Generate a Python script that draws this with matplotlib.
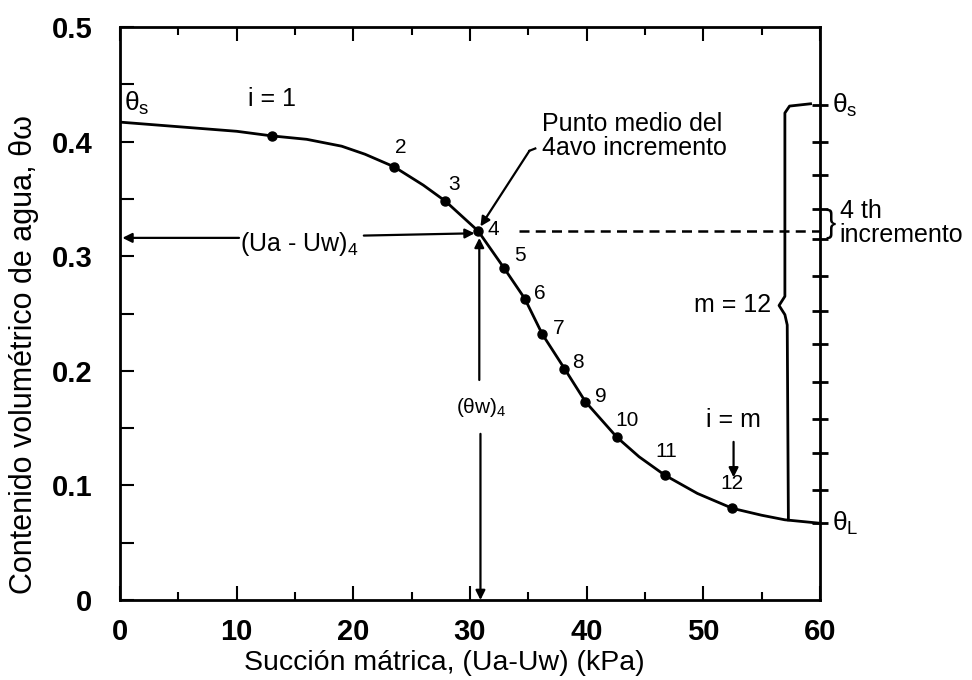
import numpy as np
import matplotlib
matplotlib.use('Agg')
import matplotlib.pyplot as plt
from matplotlib.ticker import MultipleLocator

plt.rcParams['font.family'] = ['Liberation Sans', 'DejaVu Sans']
plt.rcParams['mathtext.fontset'] = 'custom'
plt.rcParams['mathtext.rm'] = 'Liberation Sans'
plt.rcParams['mathtext.it'] = 'Liberation Sans:italic'

curve_x = [0, 5, 10, 13.0, 16, 19, 21, 23.5, 26, 27.9, 30.7, 32.9, 34.7, 36.2,
           38.1, 39.9, 42.6, 44.5, 46.7, 49.5, 52.5, 55, 57, 60]
curve_y = [0.417, 0.413, 0.409, 0.405, 0.402, 0.396, 0.389, 0.378, 0.362, 0.348,
           0.322, 0.290, 0.263, 0.232, 0.202, 0.173, 0.142, 0.125, 0.109, 0.093,
           0.080, 0.074, 0.070, 0.067]

# increment mid points i = 1..12
pt_x = [13.0, 23.5, 27.9, 30.7, 32.9, 34.7, 36.2, 38.1, 39.9, 42.6, 46.7, 52.5]
pt_y = [0.405, 0.378, 0.348, 0.322, 0.290, 0.263, 0.232, 0.202, 0.173, 0.142, 0.109, 0.080]
pt_labels = ['', '2', '3', '4', '5', '6', '7', '8', '9', '10', '11', '12']

# increments marked on the right axis (theta_s down to theta_L)
incr_y = [0.432, 0.400, 0.371, 0.341, 0.315, 0.283, 0.252, 0.223, 0.190,
          0.158, 0.128, 0.096, 0.067]

x_ticks = [0, 10, 20, 30, 40, 50, 60]
y_ticks = [0, 0.1, 0.2, 0.3, 0.4, 0.5]
y_ticklabels = ['0', '0.1', '0.2', '0.3', '0.4', '0.5']

# label offsets in points (layout only)
lab_off = [(0, 0), (5, 14), (6, 12), (11, 1), (12, 9), (11, 4), (12, 4),
           (10, 4), (11, 4), (7, 12), (1, 17), (0, 18)]

fig = plt.figure(figsize=(9.72, 6.8), dpi=100)
ax = fig.add_axes([0.1235, 0.1176, 0.72, 0.8427])

ax.plot(curve_x, curve_y, color='k', lw=2)
ax.plot(pt_x, pt_y, 'o', color='k', ms=6.5)

for x, y, s, off in zip(pt_x, pt_y, pt_labels, lab_off):
    if s:
        ax.annotate(s, (x, y), xytext=off, textcoords='offset points',
                    ha='center', va='center', fontsize=15)

ax.set_xlim(0, 60)
ax.set_ylim(0, 0.5)
ax.set_xticks(x_ticks)
ax.set_yticks(y_ticks)
ax.set_yticklabels(y_ticklabels)
ax.xaxis.set_minor_locator(MultipleLocator(5))
ax.yaxis.set_minor_locator(MultipleLocator(0.05))
ax.tick_params(axis='both', which='both', direction='in', top=True, right=False,
               width=1.5, labelsize=21)
ax.tick_params(axis='x', which='major', length=10, pad=13)
ax.tick_params(axis='x', which='minor', length=6)
ax.tick_params(axis='y', which='both', length=10, pad=20)
for lab in ax.get_xticklabels() + ax.get_yticklabels():
    lab.set_fontweight('bold')
for sp in ax.spines.values():
    sp.set_linewidth(2)

ax.set_xlabel('Succión mátrica, (Ua-Uw) (kPa)', fontsize=20.5)
ax.xaxis.set_label_coords(0.463, -0.088)
ax.set_ylabel('Contenido volumétrico de agua, θω', fontsize=22)
ax.yaxis.set_label_coords(-0.116, 0.428)

# right axis increment ticks
ax.plot([60] * len(incr_y), incr_y, ls='none', marker='_', ms=12, mew=2,
        color='k', clip_on=False)
ax.text(61.0, incr_y[0], 'θ$_\\mathrm{s}$', fontsize=19, va='center')
ax.text(61.0, incr_y[-1], 'θ$_\\mathrm{L}$', fontsize=19, va='center')
ax.text(60.5, 0.328, '}', fontsize=22, va='center', ha='left')
ax.text(61.7, 0.329, '4 th\nincremento', fontsize=18, va='center', ha='left',
        linespacing=1.0)

# big brace for m = 12
ax.plot([59.2, 57.4, 57.0, 57.0, 56.5, 57.0, 57.2, 57.3],
        [0.433, 0.431, 0.425, 0.265, 0.257, 0.249, 0.240, 0.070],
        color='k', lw=2)
ax.text(55.8, 0.257, 'm = 12', fontsize=18, ha='right', va='center')

# dashed line from point 4 to right axis
ax.plot([34.2, 60], [0.322, 0.322], ls='--', color='k', lw=1.8, dashes=(4, 2.5))

aprops = dict(arrowstyle='-|>', color='k', lw=1.6, mutation_scale=14,
              shrinkA=0, shrinkB=0)
ax.text(0.3, 0.433, 'θ$_\\mathrm{s}$', fontsize=19, va='center', ha='left')
ax.text(13.0, 0.437, 'i = 1', fontsize=18, ha='center', va='center')

# (Ua - Uw)4
ax.text(15.4, 0.311, '(Ua - Uw)$_\\mathrm{4}$', fontsize=18, ha='center', va='center')
ax.annotate('', xy=(0.2, 0.316), xytext=(10.2, 0.316), arrowprops=aprops)
ax.annotate('', xy=(30.4, 0.320), xytext=(20.9, 0.318), arrowprops=aprops)

# (θw)4
ax.text(31.0, 0.168, '(θw)$_\\mathrm{4}$', fontsize=15, ha='center', va='center')
ax.annotate('', xy=(30.8, 0.316), xytext=(30.8, 0.192), arrowprops=aprops)
ax.annotate('', xy=(30.9, 0.0), xytext=(30.9, 0.145), arrowprops=aprops)

# punto medio
ax.text(36.2, 0.405, 'Punto medio del\n4avo incremento', fontsize=18,
        ha='left', va='center', linespacing=1.0)
ax.plot([35.6, 35.1], [0.394, 0.392], color='k', lw=1.6)
ax.annotate('', xy=(30.9, 0.326), xytext=(35.1, 0.392), arrowprops=aprops)

# i = m
ax.text(52.6, 0.157, 'i = m', fontsize=18, ha='center', va='center')
ax.annotate('', xy=(52.6, 0.107), xytext=(52.6, 0.138), arrowprops=aprops)

fig.savefig('out.png', dpi=100)
